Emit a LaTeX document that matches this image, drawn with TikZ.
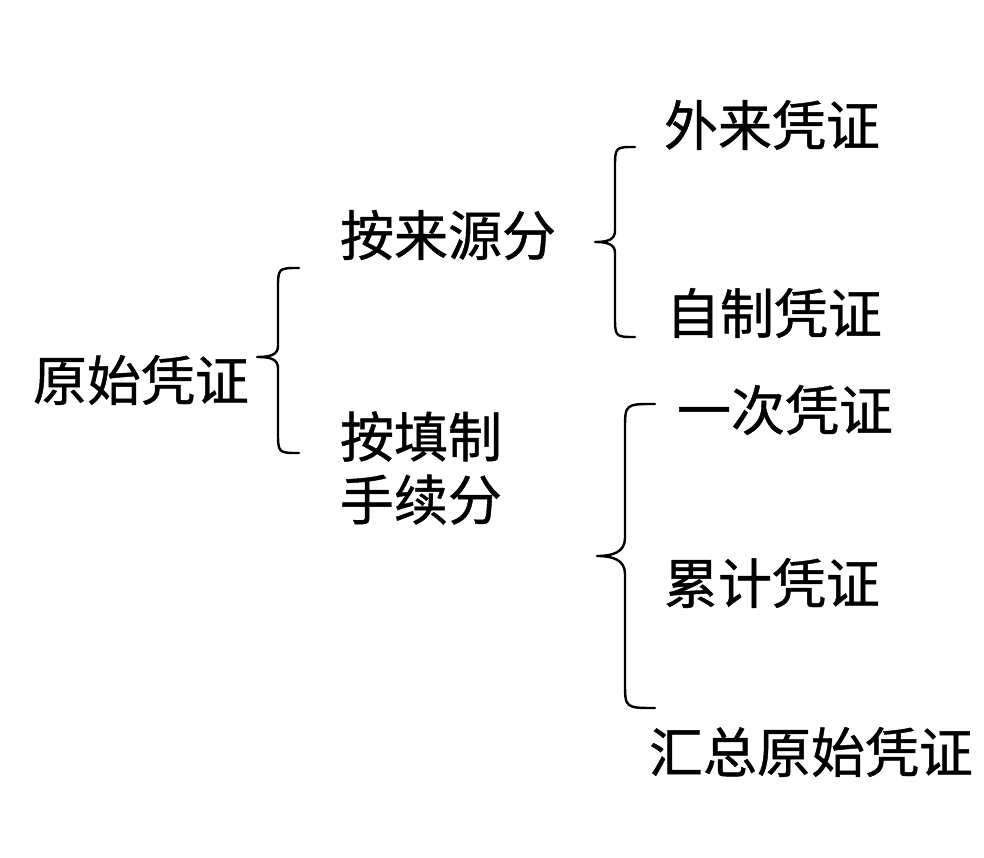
\documentclass[tikz,border=0pt]{standalone}
\usepackage{fontspec}
\newfontfamily\cjk[FakeBold=0.8]{Noto Sans CJK SC}
\tikzset{
  term/.style={inner sep=0pt, font=\cjk\fontsize{54}{63}\selectfont},
  curly/.style={line width=2.4pt, line cap=round, line join=round}
}
\begin{document}
\begin{tikzpicture}[x=1pt,y=1pt]
      \useasboundingbox (0,0) rectangle (984,858);
      \node[term] (root) at (141,478) {原始凭证};
      \node[term] (src) at (448,623) {按来源分};
      \node[term, align=left] (proc) at (421,390) {按填制\\手续分};
      \node[term] (ext) at (772,733) {外来凭证};
      \node[term] (own) at (774,545) {自制凭证};
      \node[term] (once) at (785,448) {一次凭证};
      \node[term] (cum) at (772,275) {累计凭证};
      \node[term] (sum) at (811,106) {汇总原始凭证};
      % braces
      \draw[curly] (299,590) .. controls (278,590) .. (278,568) -- (278,512)
        .. controls (278,503) and (270,501) .. (257,501)
        .. controls (270,501) and (278,499) .. (278,490) -- (278,427)
        .. controls (278,405) .. (299,405);
      \draw[curly] (635,711) .. controls (615,711) .. (615,689) -- (615,627)
        .. controls (615,618) and (607,616) .. (595,616)
        .. controls (607,616) and (615,614) .. (615,605) -- (615,543)
        .. controls (615,521) .. (635,521);
      \draw[curly] (655,454) .. controls (625,454) .. (625,428) -- (625,320)
        .. controls (625,306) and (613,302) .. (597,302)
        .. controls (613,302) and (625,298) .. (625,284) -- (625,176)
        .. controls (625,150) .. (655,150);
    \end{tikzpicture}
\end{document}
